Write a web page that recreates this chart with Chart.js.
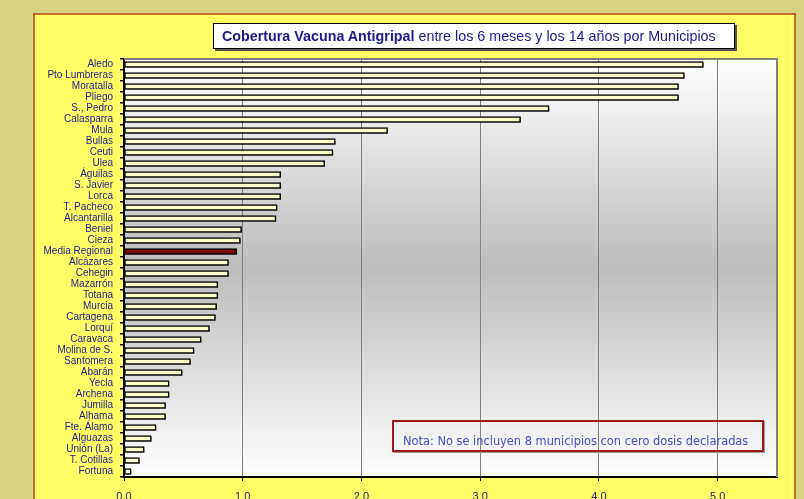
<!DOCTYPE html>
<html>
<head>
<meta charset="utf-8">
<script src="https://cdn.jsdelivr.net/npm/chart.js@4/dist/chart.umd.min.js"></script>
<style>
  html, body { margin: 0; padding: 0; background: #d6d480; }
  #wrap { position: relative; width: 804px; height: 499px; overflow: hidden; }
  #title {
    position: absolute; left: 213px; top: 23px; width: 512px; height: 24px;
    background: #fff; border: 1.5px solid #000; box-shadow: 2px 2px 0 #555;
    font: 14.3px "Liberation Sans", Arial, sans-serif; color: #1a1a8c;
    line-height: 24px; padding-left: 8px; box-sizing: content-box; white-space: nowrap;
  }
  #title b { font-weight: bold; }
  #nota {
    position: absolute; left: 392px; top: 420px; width: 372px; height: 32px;
    border: 2px solid #a01818; box-shadow: 1px 1px 0 #999;
    font: 11.4px "DejaVu Sans", Verdana, sans-serif; color: #4b4bd0;
    line-height: 38px; padding-left: 9px; box-sizing: border-box; white-space: nowrap;
  }
</style>
</head>
<body>
<div id="wrap">
  <canvas id="chart" width="804" height="499"></canvas>
  <div id="title"><b>Cobertura Vacuna Antigripal</b> entre los 6 meses y los 14 años por Municipios</div>
  <div id="nota">Nota: No se incluyen 8 municipios con cero dosis declaradas</div>
</div>
<script>
const municipios = [
  'Aledo', 'Pto Lumbreras', 'Moratalla', 'Pliego', 'S., Pedro', 'Calasparra', 'Mula',
  'Bullas', 'Ceuti', 'Ulea', 'Águilas', 'S. Javier', 'Lorca', 'T. Pacheco', 'Alcantarilla',
  'Beniel', 'Cieza', 'Media Regional', 'Alcázares', 'Cehegin', 'Mazarrón', 'Totana',
  'Murcia', 'Cartagena', 'Lorquí', 'Caravaca', 'Molina de S.', 'Santomera', 'Abarán',
  'Yecla', 'Archena', 'Jumilla', 'Alhama', 'Fte. Álamo', 'Alguazas', 'Unión (La)',
  'T. Cotillas', 'Fortuna'
];

const cobertura = [
  4.88, 4.72, 4.67, 4.67, 3.58, 3.34, 2.22,
  1.78, 1.76, 1.69, 1.32, 1.32, 1.32, 1.29, 1.28,
  0.99, 0.98, 0.95, 0.88, 0.88, 0.79, 0.79,
  0.78, 0.77, 0.72, 0.65, 0.59, 0.56, 0.49,
  0.38, 0.38, 0.35, 0.35, 0.27, 0.23, 0.17,
  0.13, 0.06
];

const xTicks = [0, 1, 2, 3, 4, 5];

const navy = '#22228c';

// Fondo: panel amarillo y degradado del area de trazado
const backgroundPlugin = {
  id: 'background',
  beforeDraw(chart) {
    const { ctx, chartArea: a } = chart;
    ctx.save();
    ctx.fillStyle = '#d6d480';
    ctx.fillRect(0, 0, chart.width, chart.height);
    ctx.fillStyle = '#ffff66';
    ctx.fillRect(34, 14, 761, 500);
    ctx.strokeStyle = '#c0401c';
    ctx.lineWidth = 1.5;
    ctx.strokeRect(34, 14, 761, 500);
    const g = ctx.createLinearGradient(0, a.top, 0, a.bottom);
    g.addColorStop(0, '#ffffff');
    g.addColorStop(0.5, '#bcbcbc');
    g.addColorStop(1, '#ffffff');
    ctx.fillStyle = g;
    ctx.fillRect(a.left, a.top, a.right - a.left, a.bottom - a.top);
    ctx.restore();
  },
  beforeDatasetsDraw(chart) {
    const ctx = chart.ctx;
    ctx.save();
    ctx.shadowColor = 'rgba(0,0,0,0.35)';
    ctx.shadowOffsetX = 1.5;
    ctx.shadowOffsetY = 1.5;
  },
  afterDatasetsDraw(chart) {
    chart.ctx.restore();
  },
  afterDraw(chart) {
    const { ctx, chartArea: a } = chart;
    ctx.save();
    ctx.strokeStyle = '#808080';
    ctx.lineWidth = 2;
    ctx.beginPath();
    ctx.moveTo(a.left, a.top);
    ctx.lineTo(a.right, a.top);
    ctx.lineTo(a.right, a.bottom);
    ctx.stroke();
    ctx.restore();
  }
};

new Chart(document.getElementById('chart'), {
  type: 'bar',
  data: {
    labels: municipios,
    datasets: [{
      data: cobertura,
      backgroundColor: municipios.map(m => m === 'Media Regional' ? '#800000' : '#ffffcc'),
      borderColor: '#000',
      borderWidth: 1.5,
      borderSkipped: false,
      barThickness: 6
    }]
  },
  options: {
    indexAxis: 'y',
    responsive: false,
    devicePixelRatio: 1,
    animation: false,
    layout: { padding: { left: 0, top: 59, right: 27, bottom: 0 } },
    plugins: { legend: { display: false }, tooltip: { enabled: false }, title: { display: false } },
    scales: {
      x: {
        min: 0,
        max: 5.5,
        afterBuildTicks(scale) {
          scale.ticks = xTicks.map(v => ({ value: v }));
        },
        afterFit(scale) { scale.height = 22; },
        ticks: {
          callback: v => v.toFixed(1),
          color: '#1a1a6e',
          font: { family: 'Liberation Sans', size: 11 },
          padding: 9
        },
        grid: { color: '#808080', lineWidth: 1, tickColor: '#000', tickLength: 4 },
        border: { color: '#000', width: 2 }
      },
      y: {
        afterFit(scale) { scale.width = 124; },
        ticks: {
          autoSkip: false,
          color: navy,
          font: { family: 'Liberation Sans', size: 10 },
          padding: 7
        },
        grid: { drawOnChartArea: false, offset: true, tickColor: '#000', tickLength: 4, lineWidth: 1.5 },
        border: { color: '#000', width: 2 }
      }
    }
  },
  plugins: [backgroundPlugin]
});
</script>
</body>
</html>
